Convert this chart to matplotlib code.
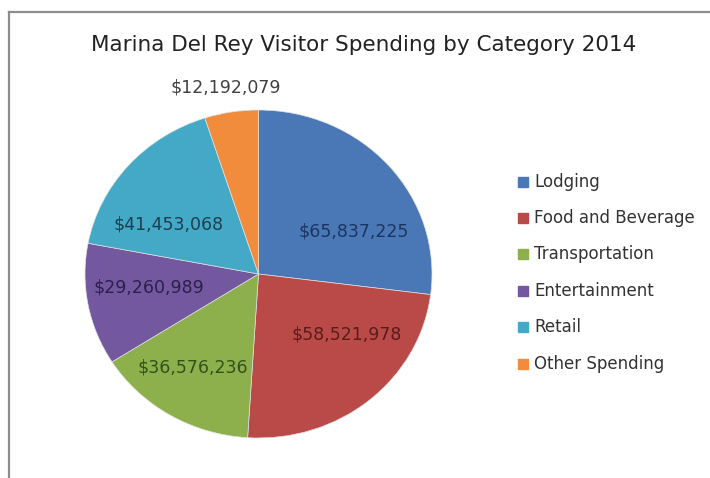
import matplotlib.pyplot as plt
from matplotlib.lines import Line2D

categories = ["Lodging", "Food and Beverage", "Transportation",
              "Entertainment", "Retail", "Other Spending"]
spending = [65837225, 58521978, 36576236, 29260989, 41453068, 12192079]

slice_colors = ["#4a78b6", "#b94a48", "#8db04c", "#7358a0", "#43a9c6", "#f08c3c"]
text_colors = ["#1c3560", "#5a1c1c", "#34501a", "#2c1f4c", "#1c3f50", "#404040"]
# where each value label sits, in pie axes units
label_pos = [(0.55, 0.26), (0.51, -0.37), (-0.38, -0.57),
             (-0.63, -0.08), (-0.52, 0.30), (-0.19, 1.14)]

W, H = 710, 478
fig = plt.figure(figsize=(W / 100, H / 100), dpi=100)
fig.patch.set_facecolor("white")

# chart frame (cut off at right and bottom)
fig.add_artist(Line2D([8.5 / W, 8.5 / W], [0, 1 - 11.5 / H], color="#8c8c8c", lw=1.6))
fig.add_artist(Line2D([8.5 / W, 1], [1 - 11.5 / H, 1 - 11.5 / H], color="#8c8c8c", lw=1.6))

fig.text(364 / W, 1 - 45 / H, "Marina Del Rey Visitor Spending by Category 2014",
         ha="center", va="center", fontsize=15.5, color="#222222", family="DejaVu Sans")

ax = fig.add_axes([85 / W, 1 - 438 / H, 347 / W, 328 / H])
wedges, _ = ax.pie(spending, colors=slice_colors, startangle=90, counterclock=False,
                   wedgeprops={"linewidth": 0.5, "edgecolor": "#e0e0e0"})
ax.set_aspect("auto")
ax.set_xlim(-1, 1)
ax.set_ylim(-1, 1)

for val, (x, y), c in zip(spending, label_pos, text_colors):
    ax.text(x, y, "${:,}".format(val), ha="center", va="center",
            fontsize=12.5, color=c, family="DejaVu Sans", clip_on=False)

# legend
leg_y = [182, 218, 254, 291, 327, 364]
for name, c, py in zip(categories, slice_colors, leg_y):
    fig.patches.append(plt.Rectangle((518 / W, 1 - (py + 5) / H), 10 / W, 10 / H,
                                     transform=fig.transFigure, color=c, figure=fig))
    fig.text(534 / W, 1 - py / H, name, ha="left", va="center",
             fontsize=12, color="#333333", family="DejaVu Sans")

fig.savefig("out.png", dpi=100)
